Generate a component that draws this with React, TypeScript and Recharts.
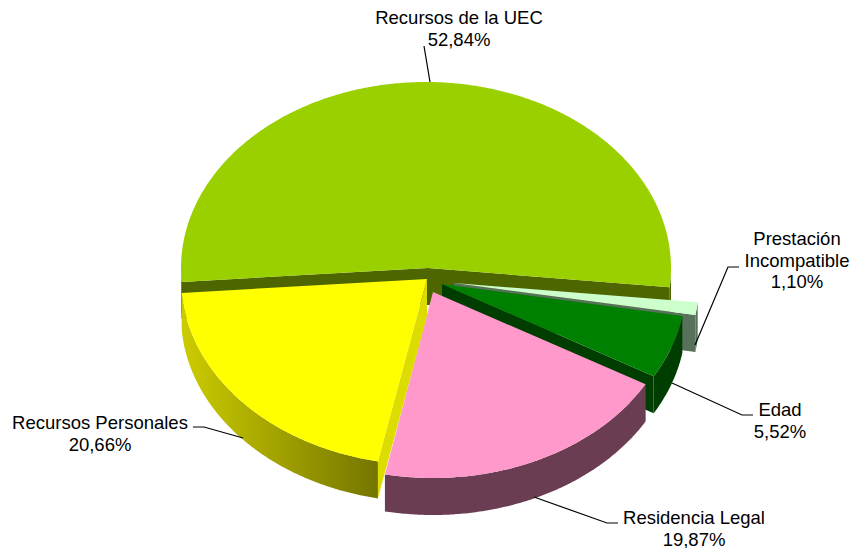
import React from 'react';
import { PieChart, Pie } from 'recharts';

// Slices in clockwise order, the way the chart is stacked front to back
const categories = ['Recursos de la UEC', 'Prestación Incompatible', 'Edad', 'Residencia Legal', 'Recursos Personales'];
const shares = [52.84, 1.1, 5.52, 19.87, 20.66];
const chartData = categories.map((name, i) => ({ name, value: shares[i] }));

const TOP_COLORS = ['#9bd000', '#ccffcc', '#008000', '#ff99cc', '#ffff00'];
const CUT_COLORS = ['#4d6600', '#57715a', '#003d00', '#6b3d52', '#dcdc00'];
const WALL_COLORS = [['#4d6600', '#4d6600'], ['#57715a', '#57715a'], ['#003d00', '#003d00'], ['#6b3d52', '#6b3d52'], ['#cccc00', '#757500']];

// explode offset of each slice's ellipse from the pie centre, in px
const OFFSETS = [[0, 0], [28, 15], [15, 16], [7, 24], [0, 11]];
// the apex sits a little off the ellipse centre (perspective of the original)
const APEX_SHIFT = [2, 0, 1, 0, 1];

// label anchor (centre x, first baseline y) and leader polyline for each slice
const LABEL_LINES = [['Recursos de la UEC'], ['Prestación', 'Incompatible'], ['Edad'], ['Residencia Legal'], ['Recursos Personales']];
const LABEL_POS = [[459, 24], [797, 245], [780, 416], [694, 524], [100, 429]];
const LEADERS = ['430,82 424,46', '695,345 728,267 739,267', '672,383 742,415 753,415', '534,497 607,523 618,523', '243,438 204,427 193,427'];

const WIDTH = 850;
const HEIGHT = 548;
const CX = 426;
const CY = 268;
const RX = 245;
const RY = 186;
const DEPTH = 37;
const RAD = Math.PI / 180;

const pt = (cx: number, cy: number, deg: number) => [cx + RX * Math.cos(deg * RAD), cy - RY * Math.sin(deg * RAD)];

const arc = (cx: number, cy: number, from: number, to: number) => {
  const out: number[][] = [];
  const n = Math.max(2, Math.ceil(Math.abs(to - from) * 2));
  for (let i = 0; i <= n; i++) out.push(pt(cx, cy, from + ((to - from) * i) / n));
  return out;
};

const toPath = (pts: number[][]) => 'M' + pts.map((p) => `${p[0].toFixed(2)},${p[1].toFixed(2)}`).join('L') + 'Z';

// Pie gives a circular sector; squash it to an ellipse and extrude it
const Slice = (props: any) => {
  const { startAngle, endAngle, index } = props;
  const a = Math.min(startAngle, endAngle);
  const b = Math.max(startAngle, endAngle);
  const cx = props.cx + OFFSETS[index][0];
  const cy = props.cy + OFFSETS[index][1];
  const ax = cx + APEX_SHIFT[index];
  const gradId = `wall-${index}`;

  const cutFace = (deg: number) => {
    const p = pt(cx, cy, deg);
    return toPath([[ax, cy], p, [p[0], p[1] + DEPTH], [ax, cy + DEPTH]]);
  };
  const showStart = Math.sin((a - 90) * RAD) < 0;
  const showEnd = Math.sin((b + 90) * RAD) < 0;

  const walls: string[] = [];
  [-360, 0, 360].forEach((shift) => {
    const from = Math.max(a + shift, 180);
    const to = Math.min(b + shift, 360);
    if (to > from) {
      const top = arc(cx, cy, from, to);
      const bottom = top.map((p) => [p[0], p[1] + DEPTH]).reverse();
      walls.push(toPath([...top, ...bottom]));
    }
  });

  return (
    <g>
      <defs>
        <linearGradient id={gradId} x1="0" y1="0" x2="1" y2="0">
          <stop offset="0%" stopColor={WALL_COLORS[index][0]} />
          <stop offset="100%" stopColor={WALL_COLORS[index][1]} />
        </linearGradient>
      </defs>
      {showStart && <path d={cutFace(a)} fill={CUT_COLORS[index]} />}
      {showEnd && <path d={cutFace(b)} fill={CUT_COLORS[index]} />}
      {walls.map((d) => (
        <path key={d} d={d} fill={`url(#${gradId})`} />
      ))}
      <path d={toPath([[ax, cy], ...arc(cx, cy, a, b)])} fill={TOP_COLORS[index]} />
    </g>
  );
};

const SliceLabel = (props: any) => {
  const { index, value } = props;
  const [x, y] = LABEL_POS[index];
  const lines = [...LABEL_LINES[index], `${value.toFixed(2).replace('.', ',')}%`];
  return (
    <text x={x} y={y} textAnchor="middle" fontFamily="Liberation Sans" fontSize={18.5} fill="#000">
      {lines.map((line, i) => (
        <tspan key={line} x={x} dy={i === 0 ? 0 : 21.5}>
          {line}
        </tspan>
      ))}
    </text>
  );
};

const LeaderLine = (props: any) => (
  <polyline points={LEADERS[props.index]} fill="none" stroke="#000" strokeWidth={1.2} />
);

export default function App() {
  return (
    <div style={{ position: 'absolute', left: 0, top: 0, background: '#fff' }}>
      <PieChart width={WIDTH} height={HEIGHT} margin={{ top: 0, right: 0, bottom: 0, left: 0 }}>
        <Pie
          data={chartData}
          dataKey="value"
          nameKey="name"
          cx={CX}
          cy={CY}
          outerRadius={RX}
          startAngle={184.3}
          endAngle={-175.7}
          stroke="none"
          shape={Slice}
          label={SliceLabel}
          labelLine={LeaderLine}
          isAnimationActive={false}
        />
      </PieChart>
    </div>
  );
}
